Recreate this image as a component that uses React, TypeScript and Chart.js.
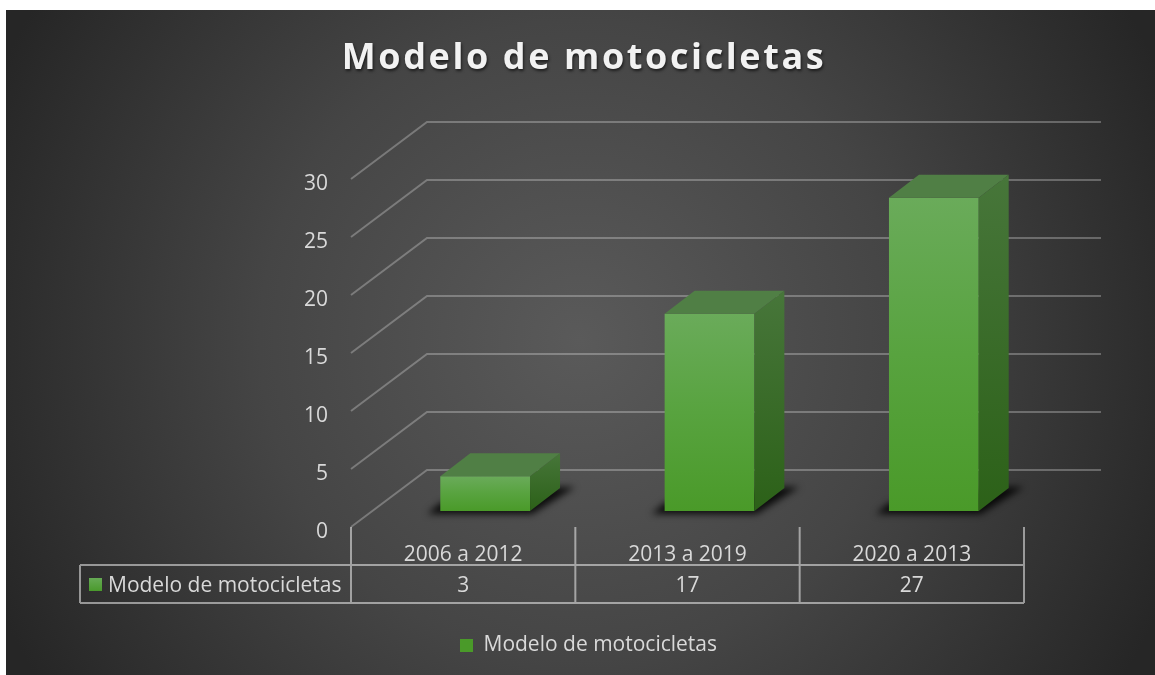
import React, { useEffect, useRef } from "react";
import { Chart, registerables } from "chart.js";

Chart.register(...registerables);

const categories = ["2006 a 2012", "2013 a 2019", "2020 a 2013"];
const seriesName = "Modelo de motocicletas";
const motoValues = [3, 17, 27];
const chartTitle = "Modelo de motocicletas";

const FONT = '"Open Sans", "Noto Sans", sans-serif';
const TEXT = "#d9d9d9";
const DX = 30; // bar depth
const DY = 23;
const WALL_X = 76;
const WALL_Y = 57;
const FRONT_SHIFT = 22;
const PX_PER_UNIT = 11.6;
const FLOOR_OFFSET = 16 / PX_PER_UNIT;

const scene = {
  id: "scene",
  beforeDraw(chart: any) {
    const { ctx } = chart;
    ctx.save();
    const g = ctx.createRadialGradient(580, 340, 0, 580, 340, 640);
    g.addColorStop(0, "#5a5a5a");
    g.addColorStop(0.5, "#454545");
    g.addColorStop(1, "#262626");
    ctx.fillStyle = g;
    ctx.fillRect(6, 10, 1149, 665);
    ctx.restore();

    if (!chart.titleBlock.__patched) {
      const t = chart.titleBlock;
      const orig = t.draw.bind(t);
      t.draw = (...a: any[]) => {
        ctx.save();
        ctx.translate(-4.5, 0);
        ctx.letterSpacing = "2.6px";
        ctx.shadowColor = "rgba(0,0,0,0.6)";
        ctx.shadowBlur = 3;
        ctx.shadowOffsetX = 1;
        ctx.shadowOffsetY = 2;
        orig(...a);
        ctx.restore();
      };
      t.__patched = true;
    }
  },
  beforeDatasetsDraw(chart: any) {
    const { ctx, chartArea, scales } = chart;
    const yf = scales.yf;
    const frontX = chartArea.left - FRONT_SHIFT;
    const backX = frontX + WALL_X;
    ctx.save();
    ctx.strokeStyle = "rgba(255,255,255,0.27)";
    ctx.lineWidth = 2;
    yf.ticks.forEach((t: any) => {
      const y = yf.getPixelForValue(t.value);
      ctx.beginPath();
      ctx.moveTo(frontX, y);
      ctx.lineTo(backX, y - WALL_Y);
      ctx.lineTo(1101, y - WALL_Y);
      ctx.stroke();
    });
    // contact shadows
    const meta = chart.getDatasetMeta(0);
    ctx.filter = "blur(3.5px)";
    ctx.fillStyle = "rgba(0,0,0,0.85)";
    meta.data.forEach((b: any) => {
      const L = b.x - b.width / 2;
      const R = b.x + b.width / 2;
      const B = b.base;
      ctx.beginPath();
      ctx.moveTo(L - 13, B + 3);
      ctx.lineTo(R + 2, B + 3);
      ctx.lineTo(R + DX + 15, B - DY - 1);
      ctx.lineTo(R + DX - 4, B - DY - 1);
      ctx.lineTo(L, B - 8);
      ctx.closePath();
      ctx.fill();
    });
    ctx.restore();
  },
  afterDatasetsDraw(chart: any) {
    const { ctx } = chart;
    const meta = chart.getDatasetMeta(0);
    ctx.save();
    meta.data.forEach((b: any) => {
      const L = b.x - b.width / 2;
      const R = b.x + b.width / 2;
      const T = b.y;
      const B = b.base;
      // top face
      ctx.fillStyle = "#507f45";
      ctx.beginPath();
      ctx.moveTo(L, T);
      ctx.lineTo(L + DX, T - DY);
      ctx.lineTo(R + DX, T - DY);
      ctx.lineTo(R, T);
      ctx.closePath();
      ctx.fill();
      // side face
      const g = ctx.createLinearGradient(0, T - DY, 0, B);
      g.addColorStop(0, "#47763a");
      g.addColorStop(1, "#2c6118");
      ctx.fillStyle = g;
      ctx.beginPath();
      ctx.moveTo(R, T);
      ctx.lineTo(R + DX, T - DY);
      ctx.lineTo(R + DX, B - DY);
      ctx.lineTo(R, B);
      ctx.closePath();
      ctx.fill();
    });
    ctx.restore();

    // data table
    const { scales, chartArea } = chart;
    const x = scales.x;
    const step = x.getPixelForValue(1) - x.getPixelForValue(0);
    const frontX = chartArea.left - FRONT_SHIFT;
    const colEdge = (i: number) => frontX + step * i;
    const top = 565;
    const bottom = 603;
    const tableLeft = 80;
    ctx.save();
    ctx.strokeStyle = "rgba(255,255,255,0.5)";
    ctx.lineWidth = 2;
    ctx.beginPath();
    ctx.moveTo(tableLeft, top);
    ctx.lineTo(colEdge(categories.length), top);
    ctx.moveTo(tableLeft, bottom);
    ctx.lineTo(colEdge(categories.length), bottom);
    ctx.moveTo(tableLeft, top);
    ctx.lineTo(tableLeft, bottom);
    for (let i = 0; i <= categories.length; i++) {
      ctx.moveTo(colEdge(i), chartArea.bottom);
      ctx.lineTo(colEdge(i), bottom);
    }
    ctx.stroke();

    ctx.fillStyle = TEXT;
    ctx.font = `21px ${FONT}`;
    ctx.textAlign = "center";
    ctx.textBaseline = "middle";
    motoValues.forEach((v, i) => {
      ctx.fillText(String(v), colEdge(i) + step / 2, 586);
    });
    ctx.textAlign = "left";
    ctx.fillText(seriesName, 108, 586);
    const kg = ctx.createLinearGradient(0, 578, 0, 591);
    kg.addColorStop(0, "#66aa55");
    kg.addColorStop(1, "#4a9a2c");
    ctx.fillStyle = kg;
    ctx.fillRect(89, 578, 13, 13);
    ctx.restore();
  },
};

function barFill(c: any) {
  const solid = "#56a33a";
  if (c.dataIndex === undefined || c.raw === undefined) return solid;
  const y = c.chart.scales.y;
  if (!y) return solid;
  const y0 = y.getPixelForValue(c.raw);
  const y1 = y.getPixelForValue(0);
  if (!Number.isFinite(y0) || !Number.isFinite(y1)) return solid;
  const g = c.chart.ctx.createLinearGradient(0, y0, 0, y1);
  g.addColorStop(0, "#6aab5a");
  g.addColorStop(0.5, "#58a33f");
  g.addColorStop(1, "#4a9a29");
  return g;
}

export default function App() {
  const ref = useRef<HTMLCanvasElement>(null);
  useEffect(() => {
    const chart = new Chart(ref.current as HTMLCanvasElement, {
      type: "bar",
      data: {
        labels: categories,
        datasets: [
          {
            label: seriesName,
            data: motoValues,
            yAxisID: "y",
            xAxisID: "x",
            backgroundColor: barFill as any,
            barPercentage: 0.4,
            categoryPercentage: 1,
          },
        ],
      },
      plugins: [scene as any],
      options: {
        responsive: false,
        animation: false,
        layout: { autoPadding: false, padding: { left: 22, right: 0, top: 0, bottom: 9 } },
        plugins: {
          tooltip: { enabled: false },
          title: {
            display: true,
            text: chartTitle,
            color: "#f2f2f2",
            font: { family: FONT, size: 36, weight: "bold", lineHeight: 1.2 },
            padding: { top: 37.4, bottom: 98.4 },
          },
          legend: {
            display: true,
            position: "bottom",
            labels: {
              color: TEXT,
              boxWidth: 13,
              boxHeight: 13,
              padding: 10,
              font: { family: FONT, size: 21 },
            },
          },
        },
        scales: {
          x: {
            type: "category",
            grid: { display: false, drawTicks: false },
            border: { display: false },
            ticks: {
              color: TEXT,
              font: { family: FONT, size: 21 },
              padding: 15,
              labelOffset: -FRONT_SHIFT,
              maxRotation: 0,
              autoSkip: false,
            },
            afterFit(s: any) {
              s.height = 98;
            },
          },
          y: {
            position: "right",
            min: -FLOOR_OFFSET,
            max: 30 - FLOOR_OFFSET,
            grid: { display: false, drawTicks: false },
            border: { display: false },
            ticks: { display: false },
            afterFit(s: any) {
              s.width = 109;
            },
          },
          yf: {
            position: "left",
            min: 0,
            max: 30,
            grid: { display: false, drawTicks: false },
            border: { display: false },
            ticks: {
              color: TEXT,
              stepSize: 5,
              font: { family: FONT, size: 21 },
              padding: 45,
              labelOffset: 5,
            },
            afterFit(s: any) {
              s.width = 351;
            },
          },
        } as any,
      },
    });
    return () => chart.destroy();
  }, []);
  return (
    <canvas
      ref={ref}
      width={1155}
      height={675}
      style={{ position: "fixed", left: 0, top: 0, display: "block" }}
    />
  );
}
